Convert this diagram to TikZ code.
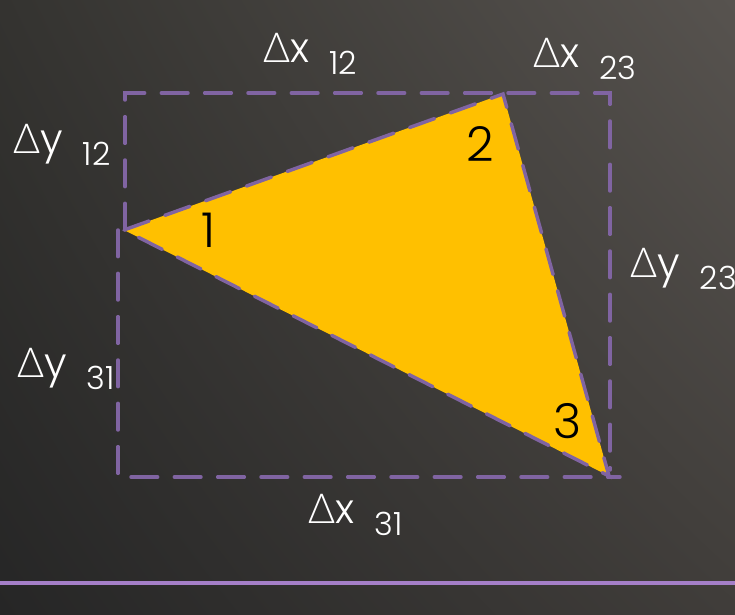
\documentclass[tikz,border=0pt]{standalone}
\usepackage{fontspec}
\setmainfont{Poppins Light}
\newfontfamily\greekfont{Lato Light}
\usetikzlibrary{positioning,calc,shadings}
\definecolor{bgdark}{HTML}{262626}
\definecolor{bgmid}{HTML}{343330}
\definecolor{bglight}{HTML}{57534F}
\definecolor{bgright}{HTML}{403D3A}
\definecolor{tri}{HTML}{FFC000}
\definecolor{lavender}{HTML}{8064A2}
\definecolor{rule}{HTML}{A57FC8}
\newcommand{\difflabel}[2]{%
  {\greekfont\fontsize{31}{31}\selectfont Δ}{\fontsize{31}{31}\selectfont #1}%
  \hspace{15pt}\raisebox{-9pt}{\fontsize{24}{24}\selectfont #2}}
\tikzset{
  guide/.style={draw=lavender,line width=2.6pt,dash pattern=on 20pt off 12.5pt,line cap=round},
  delta/.style={anchor=base west,inner sep=0pt,text=white},
  corner/.style={inner sep=0pt,text=black,font=\fontsize{36}{36}\selectfont}
}
\begin{document}
\begin{tikzpicture}[x=0.75pt,y=-0.75pt]
  \shade[upper left=bgmid,upper right=bglight,lower left=bgdark,lower right=bgright] (0,0) rectangle (735,614);
  \useasboundingbox (0,0) rectangle (735,614);
  \coordinate (v1) at (124,230);
  \coordinate (v2) at (503,94);
  \coordinate (v3) at (609,476);
  \coordinate (tl) at (125,93);
  \coordinate (tr) at (610,93);
  \coordinate (ml) at (118,230);
  \coordinate (bl) at (118,477);
  \coordinate (br) at (620,477);
  \coordinate (rb) at (610,470);
  \fill[tri] (v1) -- (v2) -- (v3) -- cycle;
  \draw[guide] (v1) -- (v2) -- (v3) -- cycle;
  \draw[guide] (tl |- v1) -- (tl) -- (tr) -- (rb);
  \draw[guide] (ml) -- (bl) -- (br);
  \draw[rule,line width=2.4pt] (0,583) -- (735,583);
  \node[delta] (dx12) at (263,62) {\difflabel{x}{12}};
  \node[delta] (dx23) at (533,67) {\difflabel{x}{23}};
  \node[delta] (dy12) at (13,153) {\difflabel{y}{12}};
  \node[delta] (dy23) at (630,277) {\difflabel{y}{23}};
  \node[delta] (dy31) at (17,377) {\difflabel{y}{31}};
  \node[delta] (dx31) at (308,523) {\difflabel{x}{31}};
  \node[corner] (n1) at (209,230) {1};
  \node[corner] (n2) at (480,144) {2};
  \node[corner] (n3) at (568,421) {3};
\end{tikzpicture}
\end{document}
